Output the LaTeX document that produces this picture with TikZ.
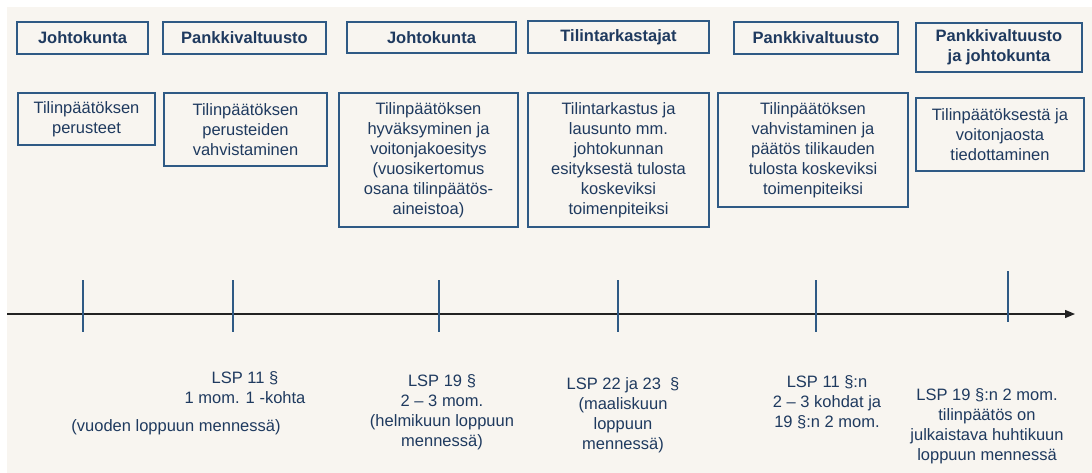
\documentclass[tikz,border=0pt]{standalone}
\usepackage{fontspec}
\setmainfont{Liberation Sans}
\usetikzlibrary{arrows.meta}
\definecolor{navy}{HTML}{1F3A5F}
\definecolor{frame}{HTML}{2F5A85}
\definecolor{paper}{HTML}{F8F5F0}
\definecolor{axis}{HTML}{222222}

\begin{document}
\begin{tikzpicture}[x=1pt, y=-1pt,
    body/.style={text=navy, align=center, inner sep=0pt,
      font=\fontsize{16.5}{20}\selectfont},
    organ/.style={body, draw=frame, line width=1.6pt,
      font=\fontsize{16.5}{20}\selectfont\bfseries},
    task/.style={body, draw=frame, line width=1.6pt},
    tick/.style={frame, line width=1.2pt},
    timeline/.style={axis, line width=1.3pt,
      -{Triangle[length=10pt, width=8pt]}}]
  \useasboundingbox (0,0) rectangle (1092,473);
  \fill[paper] (7,7) rectangle (1092,473);
  % who decides (top row)
  \node[organ, minimum width=131pt, minimum height=32pt] (o1) at (82.5,38) {Johtokunta};
  \node[organ, minimum width=163pt, minimum height=32pt] (o2) at (244.5,38) {Pankkivaltuusto};
  \node[organ, minimum width=169pt, minimum height=31pt] (o3) at (431.5,37.5) {Johtokunta};
  \node[organ, minimum width=181pt, minimum height=32pt] (o4) at (618.5,37) {Tilintarkastajat};
  \node[organ, minimum width=164pt, minimum height=32pt] (o5) at (816,38) {Pankkivaltuusto};
  \node[organ, minimum width=166pt, minimum height=49pt] (o6) at (999,47.5) {Pankkivaltuusto\\ja johtokunta};
  % what is done (second row)
  \node[task, minimum width=137pt, minimum height=52pt] (t1) at (86.5,119)
    {Tilinpäätöksen\\perusteet};
  \node[task, minimum width=163pt, minimum height=73pt] (t2) at (245.5,129.5)
    {Tilinpäätöksen\\perusteiden\\vahvistaminen};
  \node[task, minimum width=179pt, minimum height=134pt] (t3) at (428.5,160)
    {Tilinpäätöksen\\hyväksyminen ja\\voitonjakoesitys\\(vuosikertomus\\osana tilinpäätös-\\aineistoa)};
  \node[task, minimum width=181pt, minimum height=134pt] (t4) at (618.5,160)
    {Tilintarkastus ja\\lausunto mm.\\johtokunnan\\esityksestä tulosta\\koskeviksi\\toimenpiteiksi};
  \node[task, minimum width=190pt, minimum height=114pt] (t5) at (813,150)
    {Tilinpäätöksen\\vahvistaminen ja\\päätös tilikauden\\tulosta koskeviksi\\toimenpiteiksi};
  \node[task, minimum width=168pt, minimum height=73pt] (t6) at (1000,134.5)
    {Tilinpäätöksestä ja\\voitonjaosta\\tiedottaminen};
  % time axis
  \coordinate (start) at (7,314);
  \coordinate (end) at (1075,314);
  \draw[timeline] (start) -- (end);
  \foreach \x in {83, 233, 439, 618, 816}
    \draw[tick] (\x,280) -- (\x,332);
  \draw[tick] (1008,271) -- (1008,322);
  % legal basis and deadlines
  \node[body] (d1) at (176,427) {(vuoden loppuun mennessä)};
  \node[body] (d2) at (245,387.5) {LSP 11 §\\1 mom. 1 -kohta};
  \node[body] (d3) at (442,412) {LSP 19 §\\2 – 3 mom.\\(helmikuun loppuun\\mennessä)};
  \node[body] (d4) at (623,415) {LSP 22 ja 23~ §\\(maaliskuun\\loppuun\\mennessä)};
  \node[body] (d5) at (827,402) {LSP 11 §:n\\2 – 3 kohdat ja\\19 §:n 2 mom.};
  \node[body] (d6) at (987,426) {LSP 19 §:n 2 mom.\\tilinpäätös on\\julkaistava huhtikuun\\loppuun mennessä};
\end{tikzpicture}
\end{document}
